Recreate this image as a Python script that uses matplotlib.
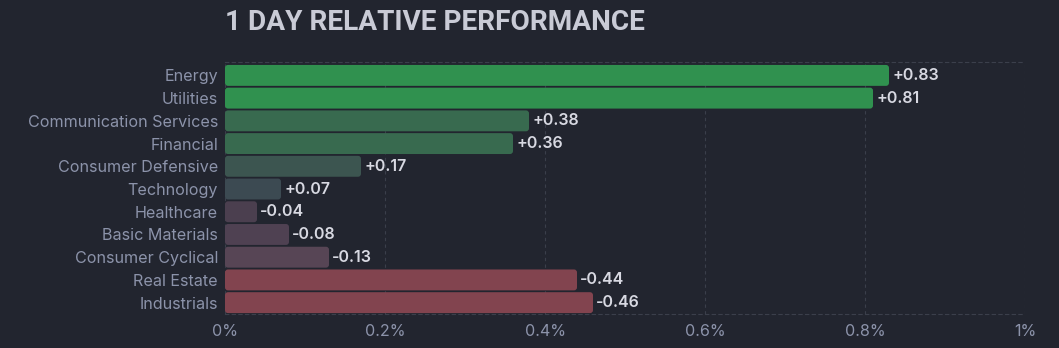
import matplotlib.pyplot as plt
from matplotlib.patches import FancyBboxPatch

sectors = ["Energy", "Utilities", "Communication Services", "Financial",
           "Consumer Defensive", "Technology", "Healthcare", "Basic Materials",
           "Consumer Cyclical", "Real Estate", "Industrials"]
changes = [0.83, 0.81, 0.38, 0.36, 0.17, 0.07, -0.04, -0.08, -0.13, -0.44, -0.46]
bar_colors = ["#30914f", "#30914f", "#386a4f", "#386a4f", "#3c5550", "#3c4a52",
              "#4b3f4f", "#4f4152", "#574555", "#82444f", "#82444f"]
xticks = [0, 0.2, 0.4, 0.6, 0.8, 1.0]
xticklabels = ["0%", "0.2%", "0.4%", "0.6%", "0.8%", "1%"]

bg = "#22252f"
W, H = 1059, 348
fig = plt.figure(figsize=(W / 100, H / 100), dpi=100, facecolor=bg)
ax = fig.add_axes([225 / W, (H - 314) / H, 800 / W, 252 / H], facecolor=bg)

ypos = list(range(len(sectors)))
bars = ax.barh(ypos, [abs(v) for v in changes], height=0.92, color=bar_colors)

ax.set_xlim(0, 1.0)
ax.set_ylim(10.5, -0.59)

# swap plain rectangles for slightly rounded ones
px_x = 1.0 / 800
px_y = 11.09 / 252
for b in bars:
    x, y = b.get_x(), b.get_y()
    w, h = b.get_width(), b.get_height()
    r = FancyBboxPatch((x, y), w, h,
                       boxstyle="round,pad=0,rounding_size=%f" % (3 * px_x),
                       mutation_aspect=px_y / px_x,
                       facecolor=b.get_facecolor(), edgecolor="none", zorder=3)
    b.set_visible(False)
    ax.add_patch(r)

for i, v in enumerate(changes):
    ax.text(abs(v) + 3 * px_x, i, "%+.2f" % v, va="center", ha="left",
            color="#d8d9e2", fontsize=11.5, family="Inter", fontweight="semibold",
            zorder=4)

ax.set_xticks(xticks)
ax.set_xticklabels(xticklabels)
ax.set_yticks(ypos)
ax.set_yticklabels(sectors)
ax.tick_params(axis="both", length=0, colors="#8c93aa", labelsize=11.6)
ax.tick_params(axis="x", pad=7)
ax.tick_params(axis="y", pad=5)
for lab in ax.get_xticklabels() + ax.get_yticklabels():
    lab.set_family("Inter")

ax.grid(axis="x", color="#3b3f4b", linestyle=(0, (3, 3)), linewidth=0.8, zorder=0)
for s in ["left", "right"]:
    ax.spines[s].set_visible(False)
for s in ["top", "bottom"]:
    ax.spines[s].set_color("#3b3f4b")
    ax.spines[s].set_linestyle((0, (3, 3)))
    ax.spines[s].set_linewidth(0.8)

fig.text(225 / W, 1 - 23 / H, "1 DAY RELATIVE PERFORMANCE", color="#c9cbd6",
         fontsize=20.2, family="Roboto", fontweight="bold", va="center", ha="left")

fig.savefig("out.png", dpi=100, facecolor=bg)
